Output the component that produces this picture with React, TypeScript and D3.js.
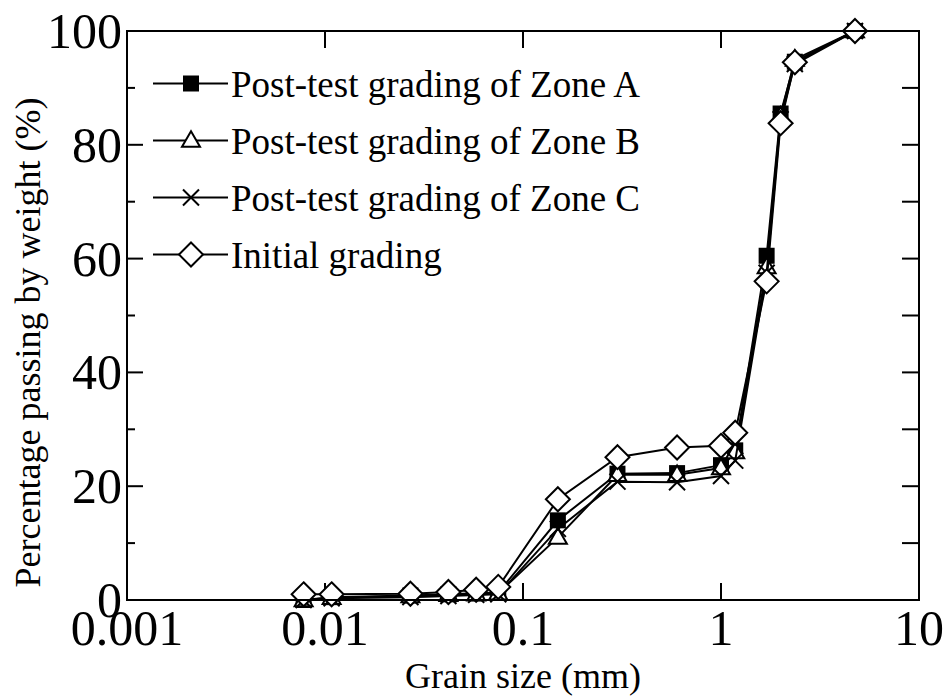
import React from "react";
import * as d3 from "d3";

const sizes = [0.0078, 0.0108, 0.027, 0.042, 0.058, 0.075, 0.15, 0.3, 0.6, 1.0, 1.18, 1.7, 2.0, 2.36, 4.75];
const zoneA = [0, 0.5, 0.8, 1.0, 1.2, 1.3, 14.0, 22.2, 22.3, 23.7, 26.3, 60.5, 85.5, 94.6, 100];
const zoneB = [0, 0.4, 0.7, 0.9, 1.0, 1.2, 11.0, 22.0, 22.0, 23.2, 26.0, 58.5, 85.0, 95.0, 100];
const zoneC = [0, 0.3, 0.5, 0.7, 0.9, 1.0, 12.5, 20.8, 20.7, 21.8, 24.5, 57.5, 84.5, 94.2, 100];
const initial = [1.0, 1.0, 1.1, 1.4, 1.8, 2.3, 17.7, 25.1, 26.8, 27.1, 29.4, 56.0, 83.8, 94.5, 100];

const seriesNames = [
  "Post-test grading of Zone A",
  "Post-test grading of Zone B",
  "Post-test grading of Zone C",
  "Initial grading",
];
const seriesMarkers = ["square", "triangle", "cross", "diamond"];
const xTicks = [0.001, 0.01, 0.1, 1, 10];
const xTickLabels = ["0.001", "0.01", "0.1", "1", "10"];
const yMajor = [0, 20, 40, 60, 80, 100];
const yMinor = [10, 30, 50, 70, 90];

const W = 945, H = 697;
const L = 127, R = 919, T = 31, B = 600;
const FONT = '"Liberation Serif"';

function T2(props: any) {
  const { children, ...rest } = props;
  return (
    <text {...rest} fill="#000" fontFamily={FONT} style={{ fontFamily: FONT }}>
      {children}
    </text>
  );
}

function Marker({ type, x, y }: { type: string; x: number; y: number }) {
  if (type === "square") {
    const s = 8;
    return <rect x={x - s} y={y - s} width={2 * s} height={2 * s} fill="#000" />;
  }
  if (type === "triangle") {
    const s = 9;
    const h = s * Math.sqrt(3);
    const p = [[x, y - h * 0.6], [x - s, y + h * 0.4], [x + s, y + h * 0.4]];
    return <polygon points={p.map(q => q.join(",")).join(" ")} fill="#fff" stroke="#000" strokeWidth={2} />;
  }
  if (type === "cross") {
    const s = 8;
    return (
      <g stroke="#000" strokeWidth={2}>
        <line x1={x - s} y1={y - s} x2={x + s} y2={y + s} />
        <line x1={x - s} y1={y + s} x2={x + s} y2={y - s} />
      </g>
    );
  }
  const s = 12;
  const p = [[x, y - s], [x + s, y], [x, y + s], [x - s, y]];
  return <polygon points={p.map(q => q.join(",")).join(" ")} fill="#fff" stroke="#000" strokeWidth={2} />;
}

export default function App() {
  const x = d3.scaleLog().domain([0.001, 10]).range([L, R]);
  const y = d3.scaleLinear().domain([0, 100]).range([B, T]);
  const data = [zoneA, zoneB, zoneC, initial];
  const line = d3.line<number>().x((_, i) => x(sizes[i])).y(v => y(v));
  const legendY = [83.5, 140.5, 197.5, 254.5];

  return (
    <svg width={W} height={H} style={{ position: "absolute", left: 0, top: 0, background: "#fff" }}>
      <rect x={0} y={0} width={W} height={H} fill="#fff" />
      <g stroke="#000" strokeWidth={2}>
        {yMajor.map(v => (
          <line key={"l" + v} x1={L} x2={L + 16} y1={y(v)} y2={y(v)} />
        ))}
        {yMinor.map(v => (
          <line key={"lm" + v} x1={L} x2={L + 8} y1={y(v)} y2={y(v)} />
        ))}
        {yMajor.concat(yMinor).map(v => (
          <line key={"r" + v} x1={R - 17} x2={R} y1={y(v)} y2={y(v)} />
        ))}
        {xTicks.slice(1, -1).map(v => (
          <g key={"x" + v}>
            <line x1={x(v)} x2={x(v)} y1={B} y2={B - 17} />
            <line x1={x(v)} x2={x(v)} y1={T} y2={T + 17} />
          </g>
        ))}
      </g>
      {data.map((vals, si) => (
        <g key={"s" + si}>
          <path d={line(vals) || ""} fill="none" stroke="#000" strokeWidth={2} />
          {vals.map((v, i) => (
            <Marker key={i} type={seriesMarkers[si]} x={x(sizes[i])} y={y(v)} />
          ))}
        </g>
      ))}
      <rect x={L} y={T} width={R - L} height={B - T} fill="none" stroke="#000" strokeWidth={2} />
      {seriesNames.map((name, i) => (
        <g key={"lg" + i}>
          <line x1={153} x2={228} y1={legendY[i]} y2={legendY[i]} stroke="#000" strokeWidth={2} />
          <Marker type={seriesMarkers[i]} x={191} y={legendY[i]} />
          <T2 x={231} y={legendY[i] + 13} fontSize={37}>{name}</T2>
        </g>
      ))}
      {xTicks.map((v, i) => (
        <T2 key={"xl" + i} x={x(v)} y={645} fontSize={50} textAnchor="middle">{xTickLabels[i]}</T2>
      ))}
      {yMajor.map(v => (
        <T2 key={"yl" + v} x={122} y={y(v) + 17} fontSize={50} textAnchor="end">{v}</T2>
      ))}
      <T2 x={(L + R) / 2} y={688} fontSize={36} textAnchor="middle">Grain size (mm)</T2>
      <T2 transform={`translate(40, ${(95 + 590) / 2}) rotate(-90)`} fontSize={36} textAnchor="middle">
        Percentage passing by weight (%)
      </T2>
    </svg>
  );
}
